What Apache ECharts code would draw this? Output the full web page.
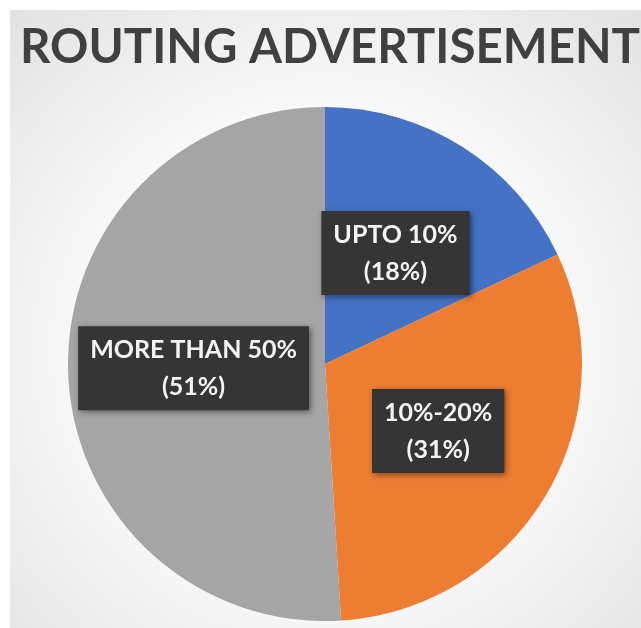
<!DOCTYPE html>
<html>
<head>
<meta charset="utf-8">
<script src="https://cdn.jsdelivr.net/npm/echarts@6/dist/echarts.min.js"></script>
<style>
html,body{margin:0;padding:0;background:#ffffff;}
#chart{position:absolute;left:10px;top:10px;width:631px;height:618px;}
</style>
</head>
<body>
<div id="chart"></div>
<script>
const titleText = "ROUTING ADVERTISEMENT";
const categories = ["UPTO 10%", "10%-20%", "MORE THAN 50%"];
const values = [18, 31, 51];
const colors = ["#4472C4", "#ED7D31", "#A5A5A5"];

const chart = echarts.init(document.getElementById('chart'), null, {renderer: 'canvas'});
chart.setOption({
  backgroundColor: {
    type: 'radial', x: 0.5, y: 0.55, r: 0.75,
    colorStops: [
      {offset: 0, color: '#ffffff'},
      {offset: 0.45, color: '#fcfcfc'},
      {offset: 1, color: '#e2e2e2'}
    ]
  },
  title: {
    text: titleText,
    left: 5,
    top: 9,
    textStyle: {
      fontFamily: 'Lato',
      fontWeight: 'bold',
      fontSize: 47.5,
      color: '#404040'
    }
  },
  series: [{
    type: 'pie',
    center: [315, 354],
    radius: 257,
    startAngle: 90,
    clockwise: true,
    animation: false,
    silent: true,
    data: categories.map((c, i) => ({name: c, value: values[i], itemStyle: {color: colors[i]}})),
    label: {
      show: true,
      position: 'inside',
      formatter: p => p.name + '\n(' + p.value + '%)',
      fontFamily: 'Lato',
      fontWeight: 'bold',
      fontSize: 25,
      lineHeight: 37,
      color: '#f4f4f4',
      backgroundColor: '#353535',
      padding: [5, 12, 5, 12],
      shadowColor: 'rgba(0,0,0,0.45)',
      shadowBlur: 6,
      shadowOffsetX: 2,
      shadowOffsetY: 2,
      align: 'center'
    },
    labelLine: {show: false}
  }]
});
</script>
</body>
</html>
